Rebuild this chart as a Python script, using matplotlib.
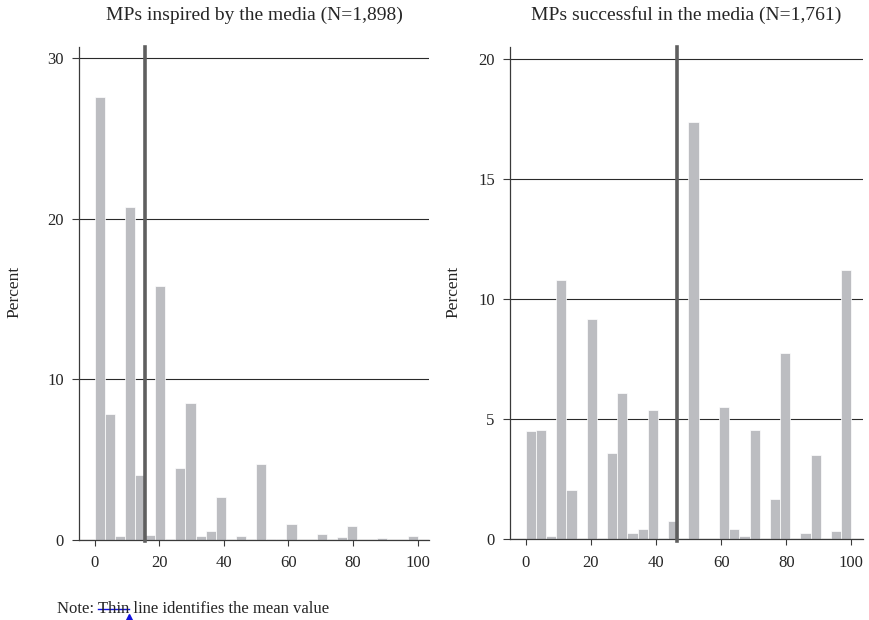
"""
Two histograms of MPs' media ratings, with the mean marked by a vertical line.
"""

import numpy as np
import matplotlib
matplotlib.use("Agg")
import matplotlib.pyplot as plt
from matplotlib.lines import Line2D

plt.rcParams["font.family"] = ["Liberation Serif", "DejaVu Serif"]

# percent per bin, 32 equal bins over 0-100
inspired_pct = [27.6, 7.8, 0.25, 20.7, 4.0, 0.3, 15.8, 0.06, 4.45, 8.5, 0.25,
                0.55, 2.65, 0, 0.25, 0, 4.7, 0.06, 0, 0.95, 0, 0, 0.35, 0,
                0.15, 0.85, 0, 0, 0.12, 0, 0, 0.25]
successful_pct = [4.5, 4.55, 0.13, 10.8, 2.06, 0, 9.17, 0.06, 3.6, 6.1, 0.25,
                  0.43, 5.39, 0.04, 0.77, 0, 17.35, 0, 0, 5.5, 0.43, 0.13,
                  4.57, 0, 1.67, 7.77, 0, 0.25, 3.5, 0, 0.35, 11.2]
inspired_mean = 15.7
successful_mean = 46.5

titles = ["MPs inspired by the media (N=1,898)",
          "MPs successful in the media (N=1,761)"]
yticks = [[0, 10, 20, 30], [0, 5, 10, 15, 20]]
xticks = [0, 20, 40, 60, 80, 100]
note_head = "Note: "
note_struck = "Thin"
note_tail = " line identifies the mean value"

# plot style
bar_color = "#bcbdc1"
mean_color = "#5f5f5f"
text_color = "#262626"
axis_color = "#3a3a3a"
W, H = 869, 620

edges = np.linspace(0, 100, len(inspired_pct) + 1)
width = edges[1] - edges[0]

fig = plt.figure(figsize=(W / 100, H / 100), dpi=100)
ax1 = fig.add_axes([0.0909, 0.1298, 0.4028, 0.7944])
ax2 = fig.add_axes([0.5869, 0.1301, 0.4059, 0.7935])

panels = [(ax1, inspired_pct, inspired_mean, 30.7, 14),
          (ax2, successful_pct, successful_mean, 20.47, 453)]

for i, (ax, pct, mean, top, ylab_x) in enumerate(panels):
    ax.bar(edges[:-1], pct, width=width, align="edge", color=bar_color,
           edgecolor="white", linewidth=0.5, zorder=2)
    ax.axvline(mean, ymin=-0.004, ymax=1, color=mean_color, linewidth=2.6,
               clip_on=False, zorder=3)

    ax.set_xlim(-4.8, 103.5)
    ax.set_ylim(0, top)
    ax.set_yticks(yticks[i])
    ax.set_xticks(xticks)

    # horizontal grid at the y ticks, behind the bars
    ax.set_axisbelow(True)
    ax.grid(axis="y", color="#2a2a2a", linewidth=0.8)

    for side in ["top", "right"]:
        ax.spines[side].set_visible(False)
    for side in ["left", "bottom"]:
        ax.spines[side].set_color(axis_color)
        ax.spines[side].set_linewidth(0.9)

    ax.tick_params(axis="y", length=5, width=0.8, pad=6, color=axis_color,
                   labelsize=12, labelcolor=text_color)
    ax.tick_params(axis="x", length=4, width=0.8, pad=7, color=axis_color,
                   labelsize=12, labelcolor=text_color)

    pos = ax.get_position()
    fig.text(pos.x0 + pos.width / 2, 1 - 15 / H, titles[i], ha="center",
             va="center", fontsize=14, color=text_color)
    fig.text(ylab_x / W, 1 - 292 / H, "Percent", rotation=90, ha="center",
             va="center", fontsize=12.5, color=text_color)

# note, with the blue edit marks over the struck word
note_x, note_y = 57 / W, 1 - 609 / H
fig.text(note_x, note_y, note_head + note_struck + note_tail, ha="left",
         va="center", fontsize=12, color=text_color)

renderer = fig.canvas.get_renderer()
probe = fig.text(0, 0, note_head, fontsize=12)
w_head = probe.get_window_extent(renderer).width / W
probe.set_text(note_head + note_struck)
w_struck = probe.get_window_extent(renderer).width / W
probe.remove()

fig.add_artist(Line2D([note_x + w_head, note_x + w_struck], [note_y, note_y],
                      color="#1010e0", linewidth=1.0))
fig.add_artist(Line2D([note_x + w_struck], [note_y - 8 / H], marker="^",
                      markersize=4, color="#1010e0", linestyle="none"))

fig.savefig("out.png", dpi=100)
